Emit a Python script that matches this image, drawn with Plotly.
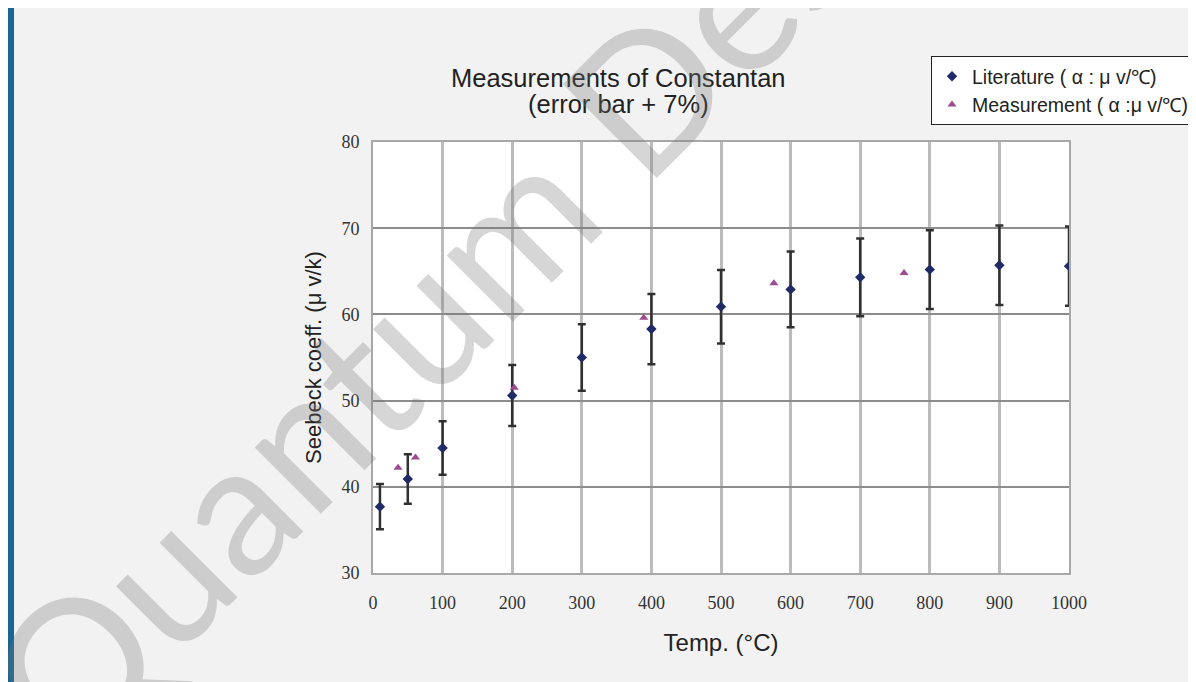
import plotly.graph_objects as go

# ---------------- data ----------------
lit_temp = [10, 50, 100, 200, 300, 400, 500, 600, 700, 800, 900, 1000]
lit_seebeck = [37.7, 40.9, 44.5, 50.6, 55.0, 58.3, 60.9, 62.9, 64.3, 65.2, 65.7, 65.6]
error_pct = 7

meas_temp = [36, 61, 203, 389, 576, 763]
meas_seebeck = [42.2, 43.4, 51.5, 59.6, 63.6, 64.8]

x_ticks = [0, 100, 200, 300, 400, 500, 600, 700, 800, 900, 1000]
y_ticks = [30, 40, 50, 60, 70, 80]

# page is rendered with an 8px body margin; the figure fills the rest
OFF = 8
W, H = 1196 - OFF, 682 - OFF
# plot area in page pixels: x 373..1069, y 142..573
L, R, T, B = 373 - OFF, 1196 - 1069, 142 - OFF, 682 - 573
pw, ph = W - L - R, H - T - B


def px(x):  # page pixel x -> paper coordinate
    return (x - OFF - L) / pw


def py(y):  # page pixel y -> paper coordinate
    return (H - B - (y - OFF)) / ph


fig = go.Figure()
fig.add_trace(go.Scatter(
    x=lit_temp, y=lit_seebeck, mode="markers",
    name="Literature ( α : μ v/℃)",
    marker=dict(symbol="diamond", size=8, color="#1f2a66"),
    error_y=dict(type="percent", value=error_pct, color="#303030",
                 thickness=2.5, width=4),
))
fig.add_trace(go.Scatter(
    x=meas_temp, y=meas_seebeck, mode="markers",
    name="Measurement ( α :μ v/℃)",
    marker=dict(symbol="triangle-up", size=8, color="#a04a92"),
))

tick_font = dict(family="Liberation Serif", size=18, color="#333333")
sans = "Liberation Sans"

fig.update_layout(
    width=W, height=H,
    margin=dict(l=L, r=R, t=T, b=B, autoexpand=False),
    paper_bgcolor="#f2f2f2",
    plot_bgcolor="#ffffff",
    showlegend=True,
    legend=dict(
        x=px(931), y=py(56), xanchor="left", yanchor="top",
        bgcolor="#ffffff", bordercolor="#222222", borderwidth=1,
        font=dict(family=sans, size=19.5, color="#222222"),
        itemwidth=30, tracegroupgap=0,
    ),
    xaxis=dict(
        range=[0, 1000], tickvals=x_ticks, ticktext=[str(v) for v in x_ticks],
        showgrid=True, gridcolor="#bcbcbc", gridwidth=2.5,
        showline=True, linecolor="#a8a8a8", linewidth=2, mirror=True,
        zeroline=False, tickfont=tick_font, ticks="", ticklabelstandoff=12,
        title=dict(text="Temp. (°C)", font=dict(family=sans, size=24, color="#222222"),
                   standoff=23),
    ),
    yaxis=dict(
        range=[30, 80], tickvals=y_ticks, ticktext=[str(v) for v in y_ticks],
        showgrid=True, gridcolor="#8c8c8c", gridwidth=2,
        showline=True, linecolor="#a8a8a8", linewidth=2, mirror=True,
        zeroline=False, tickfont=tick_font, ticks="", ticklabelstandoff=8,
        title=dict(text="Seebeck coeff. (μ v/k)", font=dict(family=sans, size=22, color="#222222"),
                   standoff=14),
    ),
    shapes=[
        dict(type="rect", xref="paper", yref="paper", x0=px(7), x1=px(14), y0=py(690), y1=py(7),
             fillcolor="#1a6591", line=dict(width=0), layer="above"),
    ],
    annotations=[
        dict(text="Measurements of Constantan", xref="paper", yref="paper",
             x=px(618), y=py(78), xanchor="center", yanchor="middle", showarrow=False,
             font=dict(family=sans, size=25.5, color="#222222")),
        dict(text="(error bar + 7%)", xref="paper", yref="paper",
             x=px(618), y=py(104), xanchor="center", yanchor="middle", showarrow=False,
             font=dict(family=sans, size=25.5, color="#222222")),
        dict(text="Quantum Design", xref="paper", yref="paper",
             x=px(505), y=py(228), xanchor="center", yanchor="middle", showarrow=False,
             textangle=-45,
             font=dict(family="Lato", size=185, color="rgba(120,120,120,0.30)")),
    ],
)

fig.write_html("out.html")
